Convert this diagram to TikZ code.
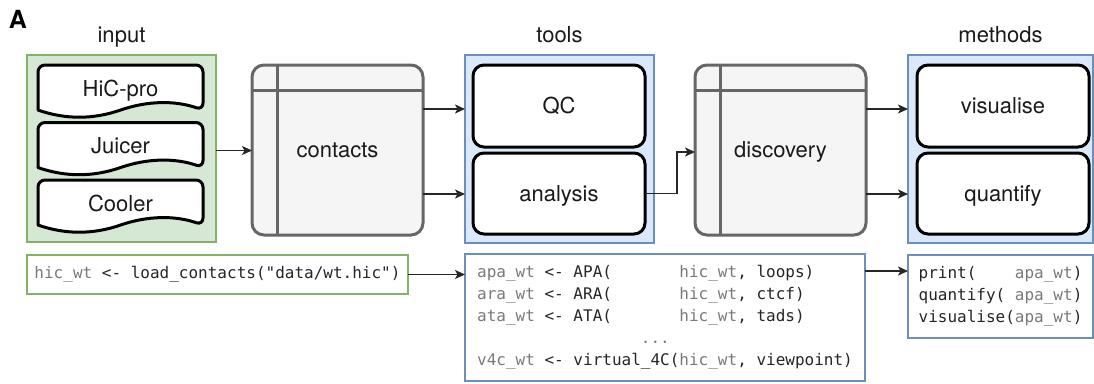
\documentclass[tikz,border=0pt]{standalone}
\usepackage{fontspec}
\setmainfont{TeX Gyre Heros}
\setmonofont{DejaVu Sans Mono}
\usetikzlibrary{arrows.meta,calc}

\definecolor{ingreen}{HTML}{D5E8D4}
\definecolor{ingreenline}{HTML}{82B366}
\definecolor{toolblue}{HTML}{DAE8FC}
\definecolor{toolblueline}{HTML}{6C8EBF}
\definecolor{storefill}{HTML}{F5F5F5}
\definecolor{storeedge}{HTML}{666666}
\definecolor{codegray}{HTML}{7A7A7A}
\definecolor{codedark}{HTML}{262626}
\definecolor{labeltext}{HTML}{1A1A1A}
\definecolor{arrowc}{HTML}{262626}

% variable names in the code snippets are printed in gray
\newcommand{\vn}[1]{\textcolor{codegray}{#1}}

\begin{document}
\begin{tikzpicture}[x=1pt,y=-1pt,
  lbl/.style={font=\fontsize{22}{26}\selectfont, text=labeltext,
    text height=15.8pt, text depth=0pt, inner sep=0pt},
  title/.style={font=\fontsize{22}{26}\selectfont, text=labeltext,
    anchor=base, inner sep=0pt},
  greengroup/.style={draw=ingreenline, fill=ingreen, line width=1.5pt,
    anchor=north west, inner sep=0pt, outer sep=0pt},
  bluegroup/.style={draw=toolblueline, fill=toolblue, line width=1.5pt,
    anchor=north west, inner sep=0pt, outer sep=0pt},
  card/.style={lbl, draw=black, fill=white, line width=3pt,
    rounded corners=11pt, anchor=north west, outer sep=0pt,
    minimum width=172pt, minimum height=82pt},
  store/.style={lbl, draw=storeedge, fill=storefill, line width=3pt,
    rounded corners=12pt, anchor=north west, outer sep=0pt,
    minimum width=171pt, minimum height=170pt},
  storerule/.style={draw=storeedge, line width=3pt},
  docsheet/.style={draw=black, fill=white, line width=3pt, line join=round},
  code/.style={font=\fontsize{16}{22}\selectfont\ttfamily, text=codedark,
    align=left, line width=1.5pt, fill=white, inner sep=0pt, outer sep=0pt,
    anchor=north west},
  arr/.style={draw=arrowc, line width=1.5pt,
    -{Stealth[length=10pt,width=9pt,inset=2.5pt]}},
]
\useasboundingbox (0,0) rectangle (1094,383);

% panel letter
\node[font=\bfseries\fontsize{25}{30}\selectfont, inner sep=0pt] (panel) at (18,19) {A};

% column groups
\node[greengroup, minimum width=189pt, minimum height=187pt] (input) at (27,55) {};
\node[bluegroup, minimum width=189pt, minimum height=188pt] (tools) at (465,55) {};
\node[bluegroup, minimum width=185pt, minimum height=188pt] (methods) at (908,55) {};

% column titles
\coordinate (titlerow) at (0,42.5);
\node[title] (inputtitle) at (input.north |- titlerow) {input};
\node[title] (toolstitle) at (tools.north |- titlerow) {tools};
\node[title] (methodstitle) at (methods.north |- titlerow) {methods};

% input formats as document sheets with a wavy lower edge
\foreach \nm/\yt/\txt in {hicpro/65/HiC-pro, juicer/122.5/Juicer, cooler/180/Cooler}{
  \draw[docsheet] (38,\yt+45.05) [rounded corners=7pt] -- (38,\yt) -- (203,\yt)
    -- (203,\yt+45.05) [sharp corners]
    .. controls (175.5,\yt+35.5) and (148,\yt+35.5) .. (120.5,\yt+45.05)
    .. controls (93,\yt+54.6) and (65.5,\yt+54.6) .. (38,\yt+45.05) -- cycle;
  \node[lbl] (\nm) at (120.5,\yt+23.5) {\txt};
}

% data containers
\node[store] (contacts) at (252,65) {contacts};
\draw[storerule] ($(contacts.north west)+(25,0)$) -- ($(contacts.south west)+(25,0)$);
\draw[storerule] ($(contacts.north west)+(0,25)$) -- ($(contacts.north east)+(0,25)$);

\node[store] (discovery) at (695,65) {discovery};
\draw[storerule] ($(discovery.north west)+(25,0)$) -- ($(discovery.south west)+(25,0)$);
\draw[storerule] ($(discovery.north west)+(0,25)$) -- ($(discovery.north east)+(0,25)$);

% tools and methods
\node[card] (qc) at (473,65) {QC};
\node[card, minimum height=81pt] (analysis) at (473,153) {analysis};
\node[card] (visualise) at (917,65) {visualise};
\node[card, minimum height=81pt] (quantify) at (917,153) {quantify};

% connectors of the flow
\coordinate (upperrow) at (0,109);
\coordinate (lowerrow) at (0,194);
\coordinate (bend) at (677,152);
\draw[arr] ([yshift=-2pt]input.east) -- ([yshift=-2pt]input.east -| contacts.west);
\draw[arr] (contacts.east |- upperrow) -- (tools.west |- upperrow);
\draw[arr] (contacts.east |- lowerrow) -- (tools.west |- lowerrow);
\draw[arr] (analysis.east) -| (bend) -- (discovery.west |- bend);
\draw[arr] (discovery.east |- upperrow) -- (methods.west |- upperrow);
\draw[arr] (discovery.east |- lowerrow) -- (methods.west |- lowerrow);

% code snippets
\node[code, draw=ingreenline, minimum width=381pt, minimum height=39pt] (loadcode) at (27,255)
  {\vn{hic\_wt} <- load\_contacts("data/wt.hic")};

\node[code, draw=toolblueline, minimum width=400pt, minimum height=127pt] (toolcode) at (465,254)
  {\vn{apa\_wt} <- APA(\phantom{0000000}\vn{hic\_wt}, loops)\\
   \vn{ara\_wt} <- ARA(\phantom{0000000}\vn{hic\_wt}, ctcf)\\
   \vn{ata\_wt} <- ATA(\phantom{0000000}\vn{hic\_wt}, tads)\\
   \phantom{00000000000000000}\vn{...}\\
   \vn{v4c\_wt} <- virtual\_4C(\vn{hic\_wt}, viewpoint)};

\node[code, draw=toolblueline, minimum width=185pt, minimum height=83pt] (methodcode) at (908,255)
  {print(\phantom{0000}\vn{apa\_wt})\\
   quantify(\phantom{0}\vn{apa\_wt})\\
   visualise(\vn{apa\_wt})};

\coordinate (coderow) at (0,271);
\draw[arr] (loadcode.east) -- (loadcode.east -| toolcode.west);
\draw[arr] (toolcode.east |- coderow) -- (methodcode.west |- coderow);
\end{tikzpicture}
\end{document}
